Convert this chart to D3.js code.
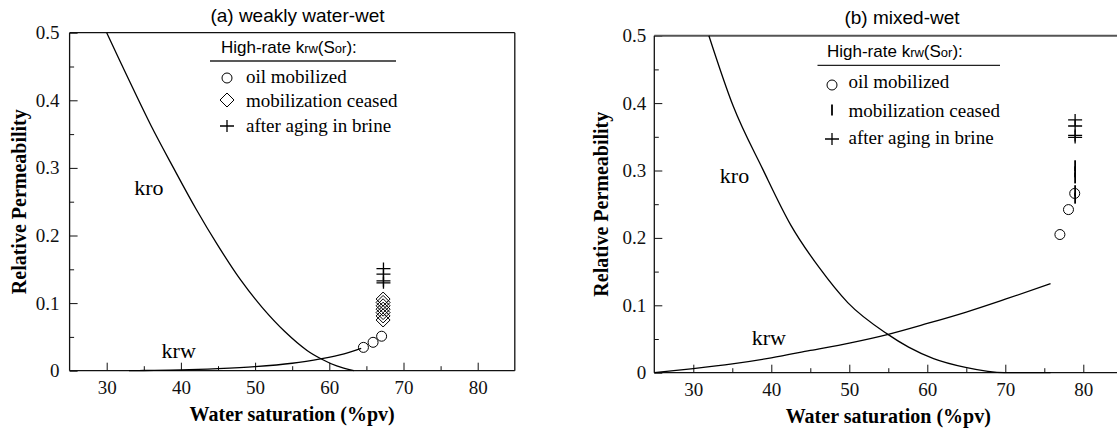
<!DOCTYPE html>
<html>
<head>
<meta charset="utf-8">
<script src="https://cdn.jsdelivr.net/npm/d3@7"></script>
<style>
  body { margin: 0; background: #fff; }
  svg { display: block; }
  .serif { font-family: "Liberation Serif", "Times New Roman", serif; }
  .sans { font-family: "Liberation Sans", Arial, sans-serif; }
</style>
</head>
<body>
<div id="chart"></div>
<script>
const W = 1117, H = 437;

// (a) weakly water-wet
const aKroSw = [30, 33, 36, 39, 42, 45, 48, 51, 54, 57, 59, 61, 63.3];
const aKro = [0.5, 0.43, 0.362, 0.3, 0.24, 0.185, 0.135, 0.093, 0.058, 0.03, 0.017, 0.007, 0.0];
const aKrwSw = [33, 35, 40, 45, 50, 55, 59, 62, 64.3];
const aKrw = [0, 0.0003, 0.001, 0.003, 0.006, 0.011, 0.018, 0.025, 0.033];
const aMobSw = [64.6, 65.9, 67.05];
const aMob = [0.0345, 0.042, 0.051];
const aCeasedSw = [67.25, 67.25, 67.25, 67.25, 67.25, 67.25, 67.25];
const aCeased = [0.075, 0.081, 0.086, 0.091, 0.096, 0.101, 0.106];
const aAgedSw = [67.3, 67.3, 67.3, 67.3];
const aAged = [0.130, 0.133, 0.143, 0.151];

// (b) mixed-wet
const bKroSw = [32, 35.1, 38.9, 42.5, 46.2, 49.8, 54.8, 57.6, 60.8, 64.9, 69.9, 75.8];
const bKro = [0.5, 0.396, 0.302, 0.219, 0.155, 0.104, 0.058, 0.038, 0.021, 0.008, 0.0, 0.0];
const bKrwSw = [25, 30, 35, 40, 45, 50, 55, 60, 65, 70, 75.8];
const bKrw = [0, 0.006, 0.013, 0.022, 0.033, 0.044, 0.057, 0.073, 0.09, 0.109, 0.132];
const bMobSw = [77.0, 78.1, 78.9];
const bMob = [0.205, 0.242, 0.266];
const bCeasedSw = [78.95, 78.95, 78.95, 78.95, 78.95];
const bCeased = [0.259, 0.27, 0.289, 0.298, 0.307];
const bAgedSw = [78.95, 78.95, 78.95, 78.95];
const bAged = [0.349, 0.352, 0.366, 0.375];

const majorX = [30, 40, 50, 60, 70, 80];
const minorX = [35, 45, 55, 65, 75];
const majorY = [0, 0.1, 0.2, 0.3, 0.4, 0.5];
const minorY = [0.05, 0.15, 0.25, 0.35, 0.45];

const svg = d3.select("#chart").append("svg")
  .attr("width", W).attr("height", H);

const zip = (xs, ys) => xs.map((x, i) => [x, ys[i]]);

function panel(opt) {
  const x = d3.scaleLinear().domain([25, 85]).range([opt.left, opt.right]);
  const y = d3.scaleLinear().domain([0, 0.5]).range([opt.bottom, opt.top]);
  const g = svg.append("g");

  // axes, ticks pointing inward
  g.append("g").attr("transform", `translate(0,${opt.bottom})`)
    .call(d3.axisBottom(x).tickValues(majorX).tickSize(-8).tickPadding(10).tickFormat(d3.format("d")))
    .call(a => a.select(".domain").remove());
  g.append("g").attr("transform", `translate(0,${opt.bottom})`)
    .call(d3.axisBottom(x).tickValues(minorX).tickSize(-4.5).tickFormat(""))
    .call(a => a.select(".domain").remove());
  g.append("g").attr("transform", `translate(${opt.left},0)`)
    .call(d3.axisLeft(y).tickValues(majorY).tickSize(-8).tickPadding(opt.ypad)
      .tickFormat(d => d === 0 ? "0" : d3.format(".1f")(d)))
    .call(a => a.select(".domain").remove());
  g.append("g").attr("transform", `translate(${opt.left},0)`)
    .call(d3.axisLeft(y).tickValues(minorY).tickSize(-4.5).tickFormat(""))
    .call(a => a.select(".domain").remove());
  g.selectAll(".tick line").attr("stroke", "#111");
  g.selectAll(".tick text").attr("class", "serif").attr("font-size", 19).attr("fill", "#111");

  // frame
  g.append("line").attr("x1", opt.left).attr("x2", opt.right).attr("y1", opt.top).attr("y2", opt.top)
    .attr("stroke", opt.topColor).attr("stroke-width", opt.topWidth);
  g.append("line").attr("x1", opt.left).attr("x2", opt.right).attr("y1", opt.bottom).attr("y2", opt.bottom)
    .attr("stroke", "#111").attr("stroke-width", 1.3);
  g.append("line").attr("x1", opt.left).attr("x2", opt.left).attr("y1", opt.top).attr("y2", opt.bottom)
    .attr("stroke", "#111").attr("stroke-width", 1.3);
  g.append("line").attr("x1", opt.right).attr("x2", opt.right).attr("y1", opt.top).attr("y2", opt.bottom)
    .attr("stroke", "#111").attr("stroke-width", 1.3);

  // curves
  const line = d3.line().x(d => x(d[0])).y(d => y(d[1])).curve(opt.curve);
  g.append("path").datum(zip(opt.kroSw, opt.kro)).attr("d", line)
    .attr("fill", "none").attr("stroke", "#000").attr("stroke-width", 1.3);
  g.append("path").datum(zip(opt.krwSw, opt.krw)).attr("d", line)
    .attr("fill", "none").attr("stroke", "#000").attr("stroke-width", 1.3);

  // markers
  g.selectAll(null).data(zip(opt.mobSw, opt.mob)).enter().append("circle")
    .attr("cx", d => x(d[0])).attr("cy", d => y(d[1])).attr("r", 5)
    .attr("fill", "none").attr("stroke", "#000").attr("stroke-width", 1);
  g.selectAll(null).data(zip(opt.ceasedSw, opt.ceased)).enter().append("path")
    .attr("transform", d => `translate(${x(d[0])},${y(d[1])})`)
    .attr("d", opt.ceasedShape)
    .attr("fill", "none").attr("stroke", "#000").attr("stroke-width", opt.ceasedWidth);
  g.selectAll(null).data(zip(opt.agedSw, opt.aged)).enter().append("path")
    .attr("transform", d => `translate(${x(d[0])},${y(d[1])})`)
    .attr("d", "M-7,0H7M0,-6V6")
    .attr("fill", "none").attr("stroke", "#000").attr("stroke-width", 1.3);

  // curve labels
  g.append("text").attr("class", "serif").attr("font-size", 22)
    .attr("x", x(opt.kroLab[0])).attr("y", y(opt.kroLab[1])).text("kro");
  g.append("text").attr("class", "serif").attr("font-size", 22)
    .attr("x", x(opt.krwLab[0])).attr("y", y(opt.krwLab[1])).text("krw");

  // titles
  svg.append("text").attr("class", "sans").attr("font-size", 19).attr("text-anchor", "middle")
    .attr("x", opt.titleX).attr("y", opt.titleY).text(opt.title);
  svg.append("text").attr("class", "serif").attr("font-size", 20).attr("font-weight", "bold")
    .attr("text-anchor", "middle")
    .attr("x", (opt.left + opt.right) / 2).attr("y", opt.xlabY).text("Water saturation (%pv)");
  svg.append("text").attr("class", "serif").attr("font-size", 20).attr("font-weight", "bold")
    .attr("text-anchor", "middle")
    .attr("transform", `translate(${opt.ylabX},${(opt.top + opt.bottom) / 2}) rotate(-90)`)
    .text("Relative Permeability");

  // legend
  const L = opt.legend;
  const head = svg.append("text").attr("class", "sans").attr("font-size", 17)
    .attr("x", L.x).attr("y", L.y);
  head.append("tspan").text("High-rate k");
  head.append("tspan").attr("font-size", 13).text("rw");
  head.append("tspan").text("(S");
  head.append("tspan").attr("font-size", 13).text("or");
  head.append("tspan").text("):");
  svg.append("line").attr("x1", L.ux1).attr("x2", L.ux2).attr("y1", L.uy).attr("y2", L.uy)
    .attr("stroke", "#222").attr("stroke-width", 1.3);
  const labels = ["oil mobilized", "mobilization ceased", "after aging in brine"];
  labels.forEach((t, i) => {
    svg.append("text").attr("class", "serif").attr("font-size", 19)
      .attr("x", L.tx).attr("y", L.rows[i]).text(t);
  });
  svg.append("circle").attr("cx", L.sx).attr("cy", L.sym[0]).attr("r", 5)
    .attr("fill", "none").attr("stroke", "#000");
  svg.append("path").attr("transform", `translate(${L.sx},${L.sym[1]})`).attr("d", opt.ceasedShape)
    .attr("fill", "none").attr("stroke", "#000").attr("stroke-width", opt.ceasedWidth);
  svg.append("path").attr("transform", `translate(${L.sx},${L.sym[2]})`).attr("d", "M-7,0H7M0,-6V6")
    .attr("fill", "none").attr("stroke", "#000").attr("stroke-width", 1.3);
}

panel({
  left: 69.6, right: 514.8, top: 32.7, bottom: 370.7, ypad: 10,
  topColor: "#111", topWidth: 1.3, curve: d3.curveCatmullRom.alpha(0.5),
  kroSw: aKroSw, kro: aKro, krwSw: aKrwSw, krw: aKrw,
  mobSw: aMobSw, mob: aMob, ceasedSw: aCeasedSw, ceased: aCeased, agedSw: aAgedSw, aged: aAged,
  ceasedShape: "M0,-7L7,0L0,7L-7,0Z", ceasedWidth: 1,
  kroLab: [33.7, 0.26], krwLab: [37.4, 0.019],
  title: "(a) weakly water-wet", titleX: 297.5, titleY: 22, xlabY: 421, ylabX: 26,
  legend: { x: 221, y: 53, ux1: 210, ux2: 396, uy: 61, sx: 227, tx: 246,
            rows: [83, 107, 132], sym: [78, 100, 126] }
});

panel({
  left: 654.3, right: 1122.3, top: 35.7, bottom: 372.7, ypad: 8,
  topColor: "#555", topWidth: 2, curve: d3.curveMonotoneX,
  kroSw: bKroSw, kro: bKro, krwSw: bKrwSw, krw: bKrw,
  mobSw: bMobSw, mob: bMob, ceasedSw: bCeasedSw, ceased: bCeased, agedSw: bAgedSw, aged: bAged,
  ceasedShape: "M0,-5.5V5.5", ceasedWidth: 1.8,
  kroLab: [33.4, 0.282], krwLab: [37.5, 0.041],
  title: "(b) mixed-wet", titleX: 902, titleY: 24, xlabY: 423, ylabX: 608,
  legend: { x: 827, y: 57, ux1: 817.5, ux2: 1000, uy: 65.3, sx: 832, tx: 848.5,
            rows: [87.5, 116.5, 143.5], sym: [85, 110, 139] }
});
</script>
</body>
</html>
